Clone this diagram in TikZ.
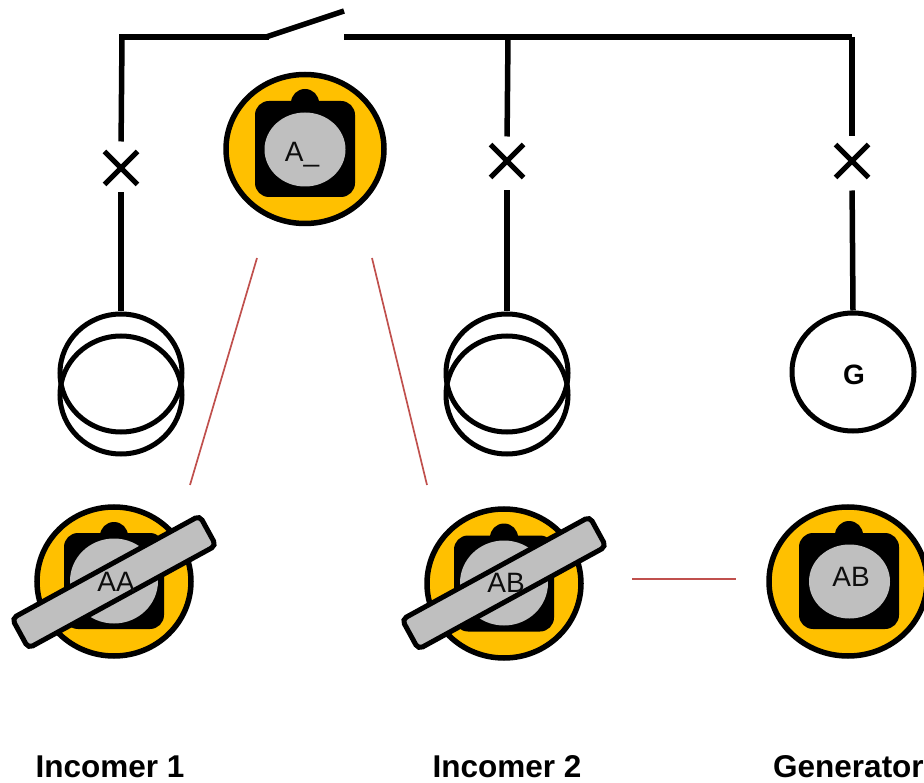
\documentclass[tikz,border=0pt]{standalone}
\usepackage{fontspec}
\setmainfont{Liberation Sans}
\usetikzlibrary{%
    shapes.misc,%
    shapes.geometric%
}
\definecolor{lockyellow}{HTML}{FFC000}
\definecolor{lockgray}{HTML}{BFBFBF}
\definecolor{linkred}{HTML}{C0504D}
\tikzset{
    wire/.style = {line width =5.5pt, black},
    link/.style = {line width =1.7pt, linkred},
    breaker/.style = {draw, cross out, line width =5pt, minimum size =33pt, inner sep =0pt, outer sep =0pt},
    winding/.style = {draw, ellipse, line width =5pt, minimum width =122pt, minimum height =118pt, inner sep =0pt},
    title/.style = {font =\bfseries\fontsize{31.5}{32}\selectfont, inner sep =0pt},
    lockbody/.style = {draw, ellipse, fill =lockyellow, line width =5.5pt, minimum width =154pt, minimum height =149pt, inner sep =0pt},
    lockknob/.style = {circle, fill =black, minimum size =28pt, inner sep =0pt},
    lockplate/.style = {rectangle, rounded corners =14pt, fill =black, minimum width =100pt, minimum height =96pt, inner sep =0pt},
    lockdisc/.style = {ellipse, fill =lockgray, inner sep =0pt},
    lockbar/.style = {draw, rectangle, rounded corners =5pt, fill =lockgray, line width =5pt, minimum width =214pt, minimum height =34pt, inner sep =0pt, rotate =28.7},
    locktext/.style = {font =\fontsize{28}{28}\selectfont, text =black!95, inner sep =0pt}
}
\begin{document}
\begin{tikzpicture}[x=1pt, y=-1pt]
\useasboundingbox (0,0) rectangle (924,783);

% bus bar and switch
\coordinate (busleft) at (122,37);
\coordinate (swhinge) at (266,37);
\coordinate (swblade) at (344,11);
\coordinate (swfixed) at (344,37);
\coordinate (busmid) at (508,37);
\coordinate (busright) at (852,37);
\draw[wire, line join =bevel, line cap =rect] (busleft) -- (swhinge);
\draw[wire] (swhinge) -- (swblade);
\draw[wire] (swfixed) -- (busright);

% breakers
\node[breaker] (brkone) at (121,168) {};
\node[breaker] (brktwo) at (507,161) {};
\node[breaker] (brkgen) at (852,161) {};

% sources
\node[winding] (tfoneup) at (121,373) {};
\node[winding] (tfonedn) at (121,395) {};
\node[winding] (tftwoup) at (507,373) {};
\node[winding] (tftwodn) at (507,395) {};
\node[winding] (gen) at (853,372) {};
\node[font =\bfseries\fontsize{28}{28}\selectfont, inner sep =0pt] (gentext) at (854,375) {G};

\draw[wire, shorten >=10pt] (busleft) -- (brkone.north);
\draw[wire, shorten >=8pt] (busmid) -- (brktwo.north);
\draw[wire, shorten >=8pt] (busright) -- (brkgen.north);
\draw[wire, shorten <=8pt] (brkone.south) -- (tfoneup.north);
\draw[wire, shorten <=13pt] (brktwo.south) -- (tftwoup.north);
\draw[wire, shorten <=13pt] (brkgen.south) -- (gen.north);

% top lock
\node[lockbody, minimum width =158pt] (locka) at (305,149) {};
\node[lockknob] (knoba) at (305,103) {};
\node[lockplate] (platea) at (305,149) {};
\node[lockdisc, minimum width =81pt, minimum height =74pt] (disca) at (305,149.5) {};
\node[locktext] (texta) at (302,155) {A\_};

% incomer 1 lock
\node[lockbody] (lockaa) at (114,581.5) {};
\node[lockknob] (knobaa) at (114,536) {};
\node[lockplate] (plateaa) at (114,581) {};
\node[lockdisc, minimum width =88pt, minimum height =85pt] (discaa) at (114,581) {};
\node[lockbar] (baraa) at (114,582) {};
\node[locktext] (textaa) at (116,582) {AA};

% incomer 2 lock
\node[lockbody] (lockab) at (504,583.5) {};
\node[lockknob] (knobab) at (504,537.5) {};
\node[lockplate] (plateab) at (504,583.5) {};
\node[lockdisc, minimum width =88pt, minimum height =85pt] (discab) at (504,583) {};
\node[lockbar] (barab) at (504,583) {};
\node[locktext] (textab) at (506,583) {AB};

% generator lock
\node[lockbody, minimum width =158pt] (lockgen) at (848,581.5) {};
\node[lockknob] (knobgen) at (849,535) {};
\node[lockplate] (plategen) at (849,581) {};
\node[lockdisc, minimum width =81pt, minimum height =74pt] (discgen) at (849.5,581.5) {};
\node[locktext] (textgen) at (851,577) {AB};

% interlock links
\coordinate (linkal) at (257,258);
\coordinate (linkaa) at (190,485);
\coordinate (linkar) at (372,258);
\coordinate (linkab) at (427,485);
\coordinate (linkbl) at (632,579);
\coordinate (linkbr) at (736,579);
\draw[link] (linkal) -- (linkaa);
\draw[link] (linkar) -- (linkab);
\draw[link] (linkbl) -- (linkbr);

\node[title] (titleone) at (110,766.5) {Incomer 1};
\node[title] (titletwo) at (507,766.5) {Incomer 2};
\node[title, anchor =west] (titlegen) at (773,766.5) {Generator};

\end{tikzpicture}
\end{document}
